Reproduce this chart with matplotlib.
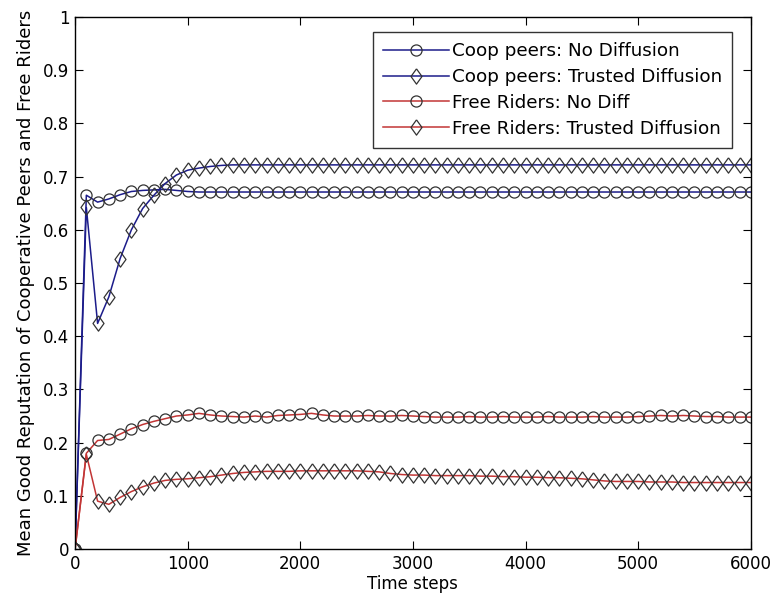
import numpy as np
import matplotlib
matplotlib.use("Agg")
import matplotlib.pyplot as plt

steps = list(range(0, 6001, 100))

coop_no_diff = [0.0, 0.665, 0.652, 0.658, 0.666, 0.672, 0.674, 0.675, 0.676, 0.674, 0.672] + [0.671] * 50
coop_trusted = [0.0, 0.642, 0.424, 0.474, 0.546, 0.600, 0.640, 0.665, 0.687, 0.703, 0.712,
                0.716, 0.719, 0.721, 0.722] + [0.722] * 46
free_no_diff = [0.0, 0.180, 0.204, 0.206, 0.216, 0.226, 0.234, 0.240, 0.245, 0.250, 0.252,
                0.255, 0.252, 0.250, 0.249, 0.248, 0.250, 0.248, 0.251, 0.252, 0.253,
                0.255, 0.252, 0.250, 0.250, 0.250, 0.251, 0.250, 0.250, 0.251, 0.250,
                0.249, 0.248, 0.248, 0.248, 0.249, 0.248, 0.248, 0.249, 0.248, 0.248,
                0.248, 0.249, 0.248, 0.248, 0.248, 0.249, 0.248, 0.248, 0.248, 0.249,
                0.250, 0.251, 0.250, 0.251, 0.250, 0.249, 0.249, 0.248, 0.248, 0.248]
free_trusted = [0.0, 0.178, 0.090, 0.084, 0.097, 0.108, 0.117, 0.124, 0.129, 0.131, 0.132,
                0.134, 0.136, 0.139, 0.142, 0.144, 0.145, 0.146, 0.146, 0.146, 0.147,
                0.147, 0.147, 0.147, 0.147, 0.147, 0.146, 0.145, 0.142, 0.140, 0.139,
                0.139, 0.138, 0.138, 0.138, 0.138, 0.137, 0.137, 0.136, 0.136, 0.135,
                0.135, 0.134, 0.134, 0.133, 0.132, 0.130, 0.128, 0.127, 0.127, 0.127,
                0.126, 0.126, 0.126, 0.125, 0.125, 0.125, 0.125, 0.125, 0.125, 0.125]

labels = ["Coop peers: No Diffusion", "Coop peers: Trusted Diffusion",
          "Free Riders: No Diff", "Free Riders: Trusted Diffusion"]
xticks = [0, 1000, 2000, 3000, 4000, 5000, 6000]
yticks = [0, 0.1, 0.2, 0.3, 0.4, 0.5, 0.6, 0.7, 0.8, 0.9, 1]
ytick_labels = ["0", "0.1", "0.2", "0.3", "0.4", "0.5", "0.6", "0.7", "0.8", "0.9", "1"]

blue = "#1c1c8a"
red = "#c23535"
diamond = [(0, 1), (0.72, 0), (0, -1), (-0.72, 0), (0, 1)]

fig = plt.figure(figsize=(7.74, 6.06), dpi=100)
ax = fig.add_axes([0.097, 0.094, 0.873, 0.878])

series = [coop_no_diff, coop_trusted, free_no_diff, free_trusted]
colors = [blue, blue, red, red]
markers = ["o", diamond, "o", diamond]
sizes = [8, 11, 8, 11]
for y, c, m, s, lab in zip(series, colors, markers, sizes, labels):
    ax.plot(steps, y, color=c, marker=m, markersize=s, markerfacecolor="none",
            markeredgecolor="#333333", markeredgewidth=0.9, linewidth=1.1, label=lab)

ax.set_xlim(0, 6000)
ax.set_ylim(0, 1)
ax.set_xticks(xticks)
ax.set_xticklabels([str(t) for t in xticks])
ax.set_yticks(yticks)
ax.set_yticklabels(ytick_labels)
ax.tick_params(direction="in", top=True, right=True, length=6, labelsize=12, pad=4)
for sp in ax.spines.values():
    sp.set_linewidth(1.0)

ax.set_xlabel("Time steps", fontsize=12, labelpad=2)
ax.set_ylabel("Mean Good Reputation of Cooperative Peers and Free Riders", fontsize=13, labelpad=6)

leg = ax.legend(loc="upper right", bbox_to_anchor=(0.978, 0.978), fontsize=13.2,
                handlelength=3.6, handletextpad=0.15, borderpad=0.55, labelspacing=0.42,
                frameon=True, fancybox=False, edgecolor="black", borderaxespad=0.2)
leg.get_frame().set_linewidth(1.0)

fig.savefig("out.png", dpi=100)
